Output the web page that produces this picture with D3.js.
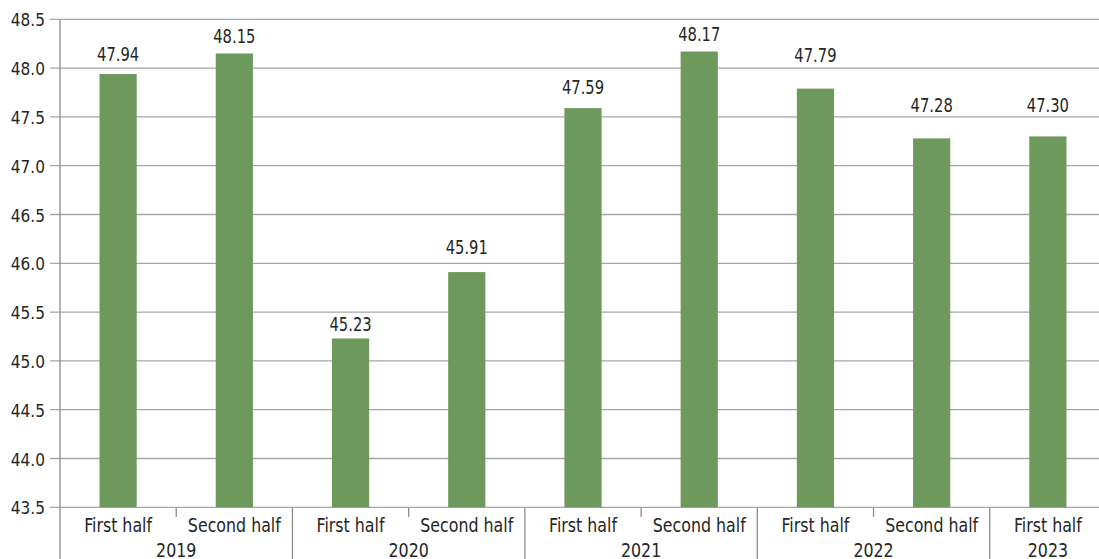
<!DOCTYPE html>
<html><head><meta charset="utf-8">
<script src="https://cdn.jsdelivr.net/npm/d3@7/dist/d3.min.js"></script>
<style>
body{margin:0;background:#fff;}
text{font-family:"DejaVu Sans Condensed","DejaVu Sans",sans-serif;fill:#262626;}
</style></head><body>
<svg id="c" width="1099" height="559"></svg>
<script>
const halves = ["First half","Second half","First half","Second half","First half","Second half","First half","Second half","First half"];
const years = ["2019","2019","2020","2020","2021","2021","2022","2022","2023"];
const values = [47.94,48.15,45.23,45.91,47.59,48.17,47.79,47.28,47.30];
const yTicks = [43.5,44.0,44.5,45.0,45.5,46.0,46.5,47.0,47.5,48.0,48.5];

(function(){
const labelGaps = [13,10.6,7,18,14,10.7,27,26.6,24.6];
const svg = d3.select("#c");
const pLeft = 60, pRight = 1106, pTop = 19.3, pBottom = 507.3;
const idx = values.map((d,i)=>i);
const x = d3.scaleBand().domain(idx).range([pLeft,pRight]).paddingInner(0.68).paddingOuter(0.34);
const y = d3.scaleLinear().domain([43.5,48.5]).range([pBottom,pTop]);
const step = x.step();

function txt(g, data, fx, fy, size, sx, anchor, fmt){
  g.selectAll("text").data(data).join("text")
    .attr("transform",(d,i)=>`translate(${fx(d,i)},${fy(d,i)}) scale(${sx},1)`)
    .attr("text-anchor",anchor).attr("font-size",size)
    .text(fmt);
}

svg.append("g").selectAll("line").data(yTicks).join("line")
  .attr("x1",pLeft-10).attr("x2",1099)
  .attr("y1",d=>y(d)).attr("y2",d=>y(d))
  .attr("stroke","#a6a6a6").attr("stroke-width",1.3);

txt(svg.append("g"), yTicks, ()=>45, d=>y(d)+7, 18, 0.95, "end", d=>d3.format(".1f")(d));

svg.append("g").selectAll("rect").data(values).join("rect")
  .attr("x",(d,i)=>x(i)).attr("width",x.bandwidth())
  .attr("y",d=>y(d)).attr("height",d=>pBottom-y(d))
  .attr("fill","#6e995c");

txt(svg.append("g"), values, (d,i)=>x(i)+x.bandwidth()/2, (d,i)=>y(d)-labelGaps[i], 20, 0.82, "middle", d=>d3.format(".2f")(d));

svg.append("line").attr("x1",pLeft).attr("x2",pLeft).attr("y1",pTop).attr("y2",559)
  .attr("stroke","#8c8c8c").attr("stroke-width",1.3);

idx.forEach(i=>{
  const bx = pLeft + step*(i+1);
  const isYearEnd = i===values.length-1 || years[i]!==years[i+1];
  svg.append("line").attr("x1",bx).attr("x2",bx)
    .attr("y1",pBottom).attr("y2",isYearEnd?559:517)
    .attr("stroke","#8c8c8c").attr("stroke-width",1.3);
});

txt(svg.append("g"), halves, (d,i)=>x(i)+x.bandwidth()/2, ()=>531.5, 20, 0.88, "middle", d=>d);

const yearGroups = d3.groups(idx, i=>years[i]);
txt(svg.append("g"), yearGroups,
  g=>{const a=g[1][0], b=g[1][g[1].length-1]; return (x(a)+x(b)+x.bandwidth())/2;},
  ()=>556.5, 20, 0.88, "middle", g=>g[0]);
})();
</script></body></html>
